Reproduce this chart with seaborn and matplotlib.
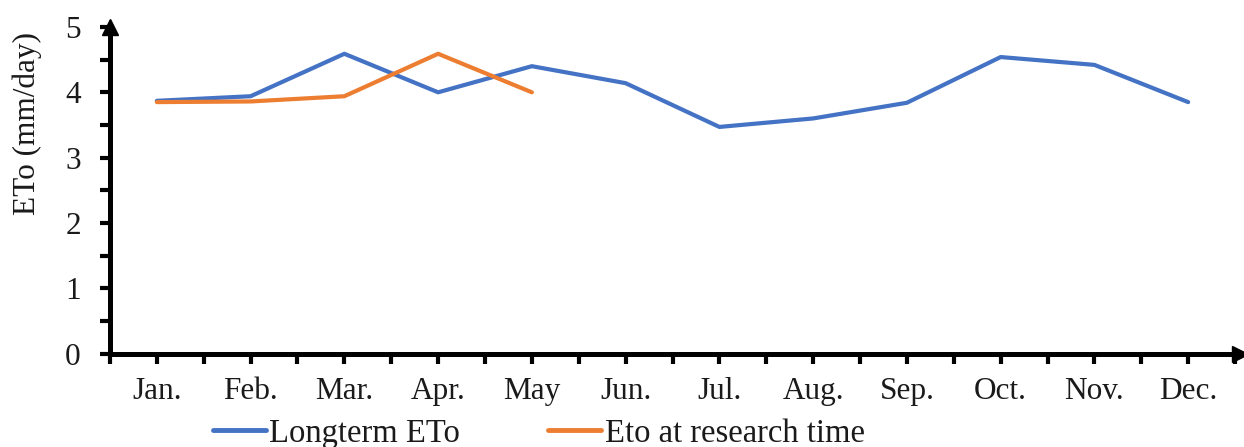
import matplotlib
matplotlib.use("Agg")
import matplotlib.pyplot as plt
from matplotlib.ticker import MultipleLocator
import pandas as pd
import seaborn as sns

months = ["Jan.", "Feb.", "Mar.", "Apr.", "May", "Jun.", "Jul.",
          "Aug.", "Sep.", "Oct.", "Nov.", "Dec."]
longterm_eto = [3.87, 3.94, 4.59, 4.00, 4.40, 4.14, 3.47, 3.60, 3.84, 4.54, 4.42, 3.85]
research_months = ["Jan.", "Feb.", "Mar.", "Apr.", "May"]
research_eto = [3.85, 3.86, 3.94, 4.59, 4.00]

series_names = ["Longterm ETo", "Eto at research time"]
colors = ["#4472C4", "#ED7D31"]

df = pd.concat([
    pd.DataFrame({"month": months, "eto": longterm_eto, "series": series_names[0]}),
    pd.DataFrame({"month": research_months, "eto": research_eto, "series": series_names[1]}),
])
df["pos"] = df["month"].map({m: i for i, m in enumerate(months)})

sns.set_theme(style="white")
plt.rcParams["font.family"] = ["Liberation Serif", "DejaVu Serif"]

FS = 22.5
TEXT = "#1a1a1a"

fig = plt.figure(figsize=(12.44, 4.47), dpi=100)
ax = fig.add_axes([0.0884, 0.209, 0.9044, 0.7306])

sns.lineplot(data=df, x="pos", y="eto", hue="series", hue_order=series_names,
             palette=colors, linewidth=3.0, ax=ax, sort=False)

ax.set_xlim(-0.5, 11.5)
ax.set_ylim(0, 5)

ax.set_xticks(range(len(months)))
ax.set_xticklabels(months)
ax.set_xticks([i + 0.5 for i in range(-1, len(months))], minor=True)
ax.yaxis.set_major_locator(MultipleLocator(1))
ax.yaxis.set_minor_locator(MultipleLocator(0.5))

for axis in (ax.xaxis, ax.yaxis):
    axis.set_tick_params(which="both", direction="out", length=7, width=3, color="black")
ax.tick_params(axis="x", which="major", pad=10, labelsize=FS, labelcolor=TEXT)
ax.tick_params(axis="y", which="major", pad=14, labelsize=FS, labelcolor=TEXT)
ax.tick_params(bottom=True, left=True, which="both")

for side in ("top", "right"):
    ax.spines[side].set_visible(False)
for side in ("left", "bottom"):
    ax.spines[side].set_linewidth(3.6)
    ax.spines[side].set_color("black")

# arrow heads at the ends of both axes
ax.plot(1.004, 0, marker=">", color="black", markersize=12,
        transform=ax.transAxes, clip_on=False)
ax.plot(0, 1.0, marker="^", color="black", markersize=12,
        transform=ax.transAxes, clip_on=False)

ax.set_xlabel("")
ax.set_ylabel("ETo (mm/day)", fontsize=FS, color=TEXT)
ax.yaxis.set_label_coords(-0.060, 0.705)

leg = ax.legend(loc="center left", bbox_to_anchor=(0.171, 0.030),
                bbox_transform=fig.transFigure, ncol=2, frameon=False,
                fontsize=23.5, handlelength=1.63, handletextpad=0.1,
                columnspacing=2.7, borderaxespad=0, borderpad=0)
for line, text in zip(leg.get_lines(), leg.get_texts()):
    line.set_linewidth(3.5)
    text.set_color(TEXT)

fig.savefig("out.png", dpi=100)
